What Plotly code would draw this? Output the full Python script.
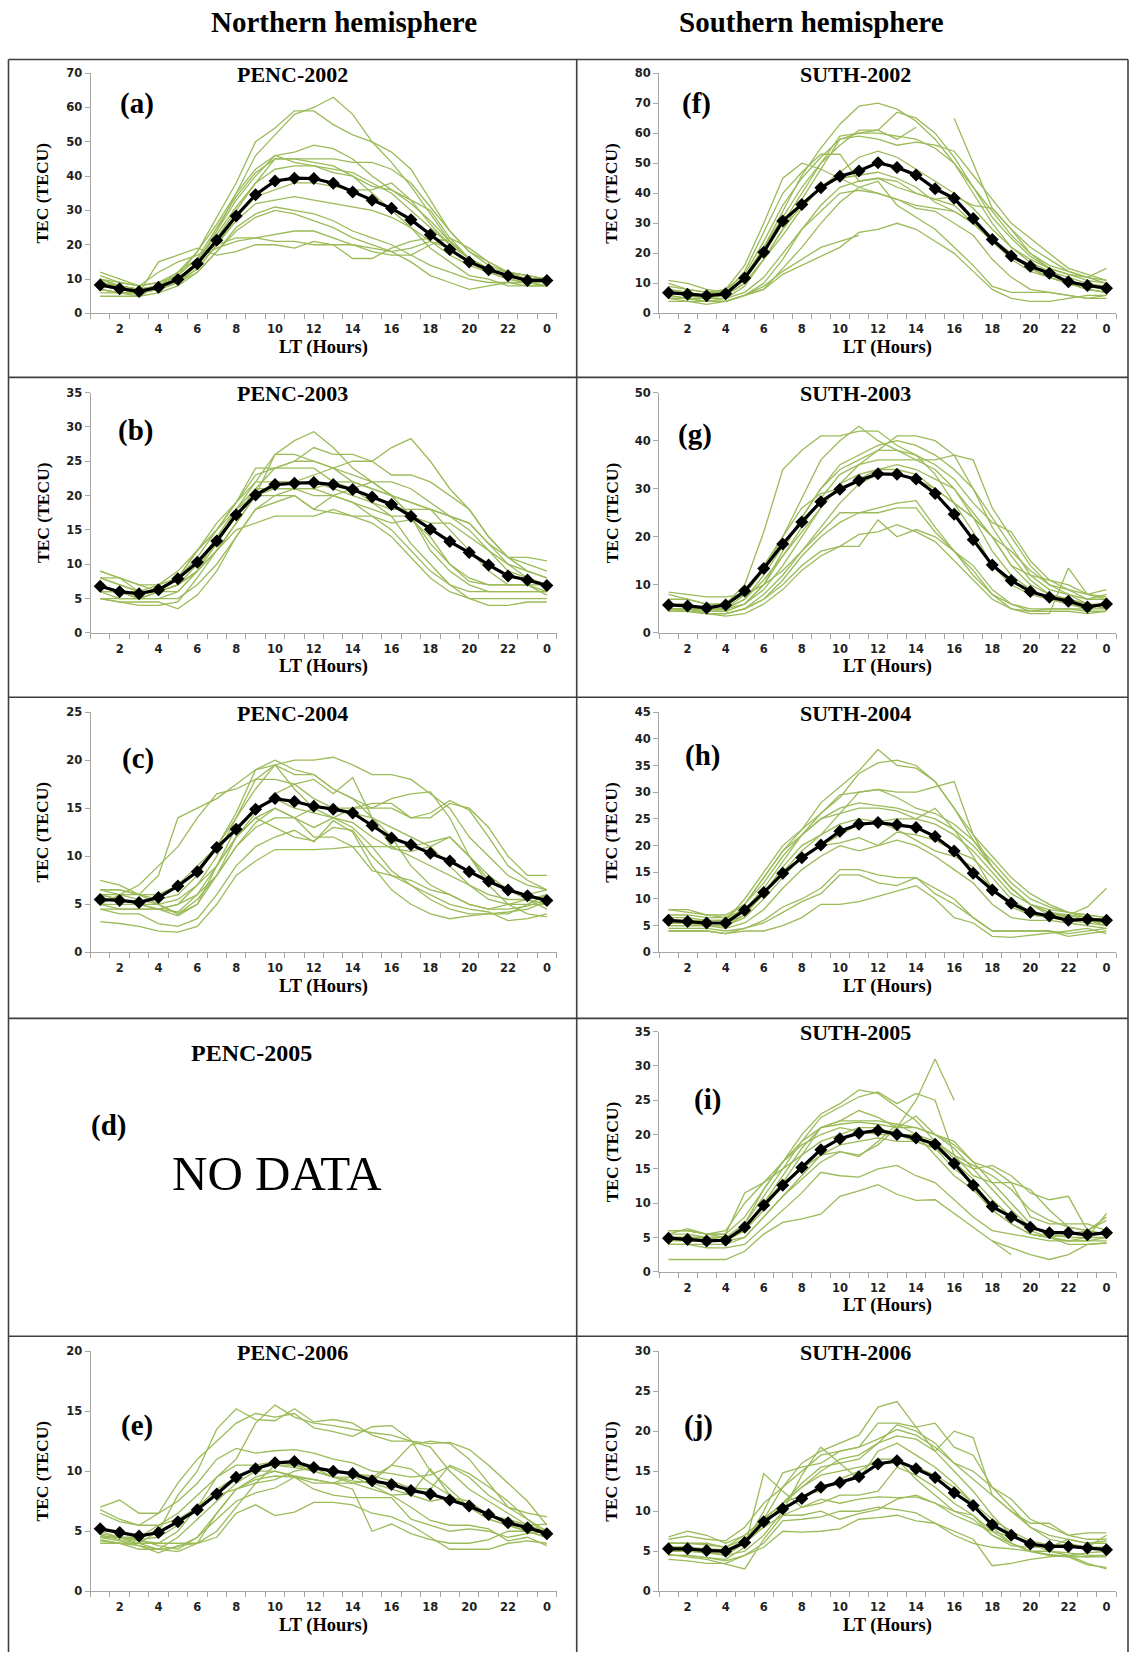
import plotly.graph_objects as go

W, H = 1129, 1659
N = None

lt_hours = list(range(1, 25))
tick_pos = [2, 4, 6, 8, 10, 12, 14, 16, 18, 20, 22, 24]
tick_text = ["2", "4", "6", "8", "10", "12", "14", "16", "18", "20", "22", "0"]

# ---------------- PENC-2002 (a) ----------------
penc2002_mean = [8.3, 7.2, 6.4, 7.6, 9.9, 14.5, 21.3, 28.4, 34.6, 38.6, 39.4, 39.3, 37.9, 35.4, 33.0, 30.6, 27.3, 22.9, 18.6, 15.0, 12.7, 11.0, 9.6, 9.6]
penc2002_days = [
    [10, 8, 7, 8, 10, 15, 24, 35, 46, 52, 58, 60, 63, 58, 50, 44, 37, 29, 21, 16, 13, 11, 10, 9],
    [9, 8, 7, 8, 11, 18, 28, 38, 50, 54, 59, 59, 55, 52, 50, 47, 42, 33, 24, 18, 14, 12, 11, 10],
    [11, 9, 8, 9, 12, 18, 26, 35, 42, 46, 47, 49, 48, 45, 40, 36, 33, 30, 22, 16, 13, 11, 10, 10],
    [10, 8, 7, 8, 10, 15, 24, 33, 40, 46, 44, 43, 42, 41, 38, 35, 30, 25, 20, 16, 13, 11, 10, 9],
    [8, 7, 6, 7, 9, 14, 22, 30, 38, 45, 45, 45, 45, 44, 44, 42, 38, 31, 24, 18, 15, 12, 11, 10],
    [9, 8, 7, 8, 10, 15, 23, 31, 38, 42, 43, 43, 41, 40, 37, 36, 32, 27, 21, 16, 13, 12, 10, 10],
    [7, 6, 6, 7, 9, 13, 20, 28, 34, 36, 38, 38, 37, 36, 36, 38, 33, 26, 20, 16, 13, 11, 10, 10],
    [8, 7, 6, 7, 9, 13, 20, 27, 32, 33, 34, 33, 32, 31, 30, 28, 25, 21, 17, 14, 12, 10, 9, 9],
    [7, 6, 6, 7, 9, 12, 18, 25, 29, 31, 30, 29, 27, 24, 22, 20, 17, 14, 12, 10, 9, 9, 8, 8],
    [6, 6, 5, 6, 8, 12, 18, 24, 28, 30, 29, 27, 25, 22, 20, 18, 15, 11, 9, 7, 8, 9, 9, 8],
    [5, 5, 5, 8, 12, 16, 19, 21, 22, 23, 24, 24, 22, 20, 19, 18, 19, 21, 19, 15, 12, 10, 9, 8],
    [7, 6, 6, 15, 17, 19, 17, 18, 20, 20, 19, 21, 20, 16, 16, 19, 21, 22, 21, 16, 13, 11, 10, 9],
    [10, 9, 8, 12, 15, 17, 20, 22, 22, 21, 21, 20, 20, 20, 18, 17, 17, 20, 22, 19, 15, 12, 11, 10],
    [12, 10, 8, 9, 11, 16, 25, 34, 41, 45, 45, 44, 43, 40, 35, 30, 25, 19, 15, 11, 10, 8, 8, 8],
]

# ---------------- PENC-2003 (b) ----------------
penc2003_mean = [6.8, 6.0, 5.7, 6.3, 7.9, 10.3, 13.4, 17.2, 20.1, 21.6, 21.8, 21.9, 21.6, 20.9, 19.8, 18.7, 17.0, 15.1, 13.3, 11.7, 9.9, 8.3, 7.7, 6.9]
penc2003_days = [
    [8, 7, 6, 7, 9, 12, 15, 19, 22, 26, 28, 29.3, 27, 24, 22, 20, 17, 13, 10, 8, 7, 7, 7, 7],
    [6, 6, 5, 6, 7, 9, 12, 16, 20, 22, 22, 23, 24, 25, 25, 27, 28.3, 25, 21, 18, 14, 11, 10, 9],
    [9, 8, 7, 7, 8, 10, 13, 17, 21, 24, 25, 27, 26, 26, 25, 23, 23, 22, 20, 18, 14, 11, 11, 10.5],
    [7, 6, 6, 6, 7, 9, 12, 16, 20, 26, 26, 25, 24, 23, 22, 20, 17, 12, 9, 7, 6, 6, 6, 6],
    [8, 7, 6, 6, 8, 11, 15, 19, 23, 24, 25, 25, 24, 22, 21, 20, 19, 18, 17, 16, 13, 10, 9, 8],
    [6, 6, 5, 6, 8, 12, 16, 19, 24, 24, 24, 24, 22, 21, 19, 17, 13, 10, 7, 6, 6, 6, 6, 6],
    [5, 5, 5, 5, 6, 9, 13, 18, 22, 22, 22, 22, 21, 20, 19, 18, 18, 18, 17, 16, 13, 11, 9, 8],
    [6, 5, 5, 6, 8, 12, 15, 18, 21, 21, 21, 20, 20, 19, 17, 15, 12, 9, 7, 5, 5, 5, 5, 5],
    [5, 4.5, 4, 4, 4.5, 8, 12, 15, 16, 17, 17, 17, 18, 17, 16, 14, 11, 8, 6, 5, 4, 4, 4.5, 4.5],
    [8, 8, 7, 6, 6, 9, 14, 17, 20, 20, 20, 18, 20, 21, 22, 22, 21, 19, 17, 15, 12, 9, 8, 7],
    [9, 8, 6, 6, 7, 10, 14, 18, 20, 21, 21, 21, 20, 19, 18, 17, 17, 16, 16, 14, 12, 10, 8, 7],
    [7, 6, 5, 5, 5, 7, 10, 14, 18, 20, 21, 21, 22, 22, 21, 20, 19, 18, 15, 12, 9, 7, 7, 6],
    [5, 4.5, 4.5, 4.5, 3.5, 5.5, 9, 14, 18, 19, 20, 18, 17.5, 17, 17, 16, 16.5, 14, 10, 7.5, 7, 7, 7, 5.5],
]

# ---------------- PENC-2004 (c) ----------------
penc2004_mean = [5.5, 5.4, 5.2, 5.7, 6.9, 8.4, 10.9, 12.8, 14.9, 16.0, 15.7, 15.2, 14.9, 14.5, 13.2, 11.9, 11.2, 10.3, 9.5, 8.4, 7.4, 6.5, 5.9, 5.4]
penc2004_days = [
    [6.5, 6.5, 6, 6, 7, 9, 11, 14, 17, 19.5, 20, 20, 20.3, 19.5, 18.5, 18.5, 18, 16.5, 15, 12, 10, 8, 7, 6.5],
    [7.5, 7, 6, 5.5, 6, 8, 11, 14.5, 19, 20, 19, 18.5, 17, 16, 15, 15, 14, 14, 15.5, 15, 13, 10, 8, 8],
    [6, 5.5, 5, 4.5, 5, 7, 10, 14, 18, 19.5, 17, 15, 14, 13, 11, 8.5, 7, 5.5, 4.5, 4, 4, 4, 5, 6],
    [5, 6, 7, 9, 11, 14, 16.5, 17, 18, 18, 17.5, 16, 15, 14.5, 14, 13, 12, 11, 9, 7, 5.5, 5, 5, 5],
    [6, 6, 6, 8, 14, 15, 16, 17.5, 19, 19.5, 18.5, 18.5, 17, 16, 14, 12, 9, 7, 6, 5, 4.5, 5, 5.5, 6],
    [6.5, 6, 5.5, 5, 5.5, 7, 9, 12, 14.5, 16.5, 17.5, 18, 16.5, 18.2, 14, 11, 10, 9, 8, 7, 6, 5.5, 5.5, 5],
    [4.5, 4.5, 4.5, 4.5, 5, 6, 8, 11, 13.5, 15, 14, 15, 15, 15, 15, 16, 16.5, 16.7, 14, 10, 7.5, 6.5, 6, 6.5],
    [5, 5, 5, 5, 4, 5.5, 8, 11, 13, 14, 14, 13, 14, 15, 15.5, 15.5, 14, 14.5, 15.8, 14.8, 12, 9, 7.5, 6.5],
    [3.2, 3, 2.7, 2.2, 2.1, 2.7, 5, 8, 9.5, 10.7, 10.7, 10.7, 10.8, 11, 11, 11, 11, 11.5, 12, 10, 7, 5, 4, 3.7],
    [4.5, 4, 4, 3, 2.7, 3.5, 6, 9, 11, 12, 12.7, 11.5, 13.7, 12.5, 9, 6.5, 5, 4, 3.5, 3.8, 4, 4.2, 4.5, 5.3],
    [5, 4.5, 4.5, 4.5, 4.2, 6, 9, 12, 14, 13, 12, 11.6, 13, 12.7, 10, 8, 7, 6, 5, 4.5, 4.2, 3.3, 3.5, 4],
    [6.5, 6.5, 6, 5, 4, 5, 9, 13, 15, 16, 15, 14.5, 14, 13.5, 12, 10.8, 10.5, 11, 12, 10, 8, 6.5, 5.5, 4.5],
    [6, 5.5, 5, 4.5, 3.8, 5, 8, 12, 14, 15, 14, 12, 12, 11, 8.5, 8, 7.5, 6.5, 6, 5, 4.5, 4.5, 4.8, 5.5],
]

# ---------------- PENC-2006 (e) ----------------
penc2006_mean = [5.2, 4.9, 4.6, 4.9, 5.8, 6.8, 8.1, 9.5, 10.2, 10.7, 10.8, 10.3, 10.0, 9.8, 9.2, 8.9, 8.4, 8.1, 7.6, 7.1, 6.4, 5.7, 5.3, 4.8]
penc2006_days = [
    [4.5, 4.5, 4, 4, 5, 7, 9.5, 11, 14, 15.5, 14.5, 14, 13.8, 13.5, 13.2, 13, 12.5, 12, 10, 8.5, 7.5, 6.5, 5.5, 5],
    [4.3, 4, 4, 5, 8, 10, 13.5, 15.2, 14.3, 14.2, 15.2, 14.1, 14.3, 14, 13, 12.5, 12.5, 12.3, 12.4, 11.8, 10.5, 9, 7.5, 5.5],
    [6.8, 6, 5.5, 6.5, 9, 11, 12.5, 14, 14.8, 14.5, 14.8, 13.6, 13.3, 12.9, 13.7, 13.8, 12.6, 10, 8.5, 7, 6, 5.5, 5, 4.5],
    [7, 7.6, 6.5, 6.5, 7.5, 9, 11, 11.9, 11.5, 11.7, 11.8, 11.5, 11, 10.7, 10, 9.8, 9.5, 9.7, 10.4, 9.5, 8, 7, 6.5, 6.2],
    [4.5, 4.5, 4.2, 4, 4, 4, 5, 7, 9, 10.5, 10.5, 10, 9.5, 9.5, 9.5, 10.5, 12.2, 12.5, 12.3, 11, 9, 7, 6, 5],
    [5, 4.5, 4.3, 4.5, 5.5, 7, 8.5, 9.5, 10.2, 10.5, 10.3, 10, 9.5, 9, 8.5, 8, 8.1, 10.2, 8, 7, 6.5, 5.5, 5, 4.5],
    [4.5, 4.2, 3.8, 3.5, 3.7, 4.5, 6.5, 8.5, 9.5, 10, 9.5, 9, 9, 9, 9.2, 10.5, 10.2, 9, 8, 7, 6, 5.5, 5, 4.5],
    [4.7, 4.3, 4, 3.5, 3.3, 4, 6.5, 8.5, 9.3, 9.6, 9.5, 9.3, 9, 8.5, 5, 5.6, 4.8, 4.3, 4, 4, 4.3, 5, 5, 5.2],
    [4.2, 4, 3.8, 3.2, 3.8, 4, 4.5, 6.5, 7.2, 6.3, 6.6, 7.4, 7.4, 7.2, 6.5, 6.2, 5.5, 4.5, 3.5, 3.5, 3.5, 4, 4.2, 4],
    [4.5, 4.5, 4.3, 3.8, 3.5, 4.5, 6, 7.5, 8.2, 8.6, 9.5, 8.5, 8, 7.8, 7.8, 7.8, 6, 5.5, 5, 5.2, 5, 4.5, 4.8, 5],
    [6.5, 5.8, 5.5, 5.5, 6, 7, 8, 8.5, 9, 9.3, 10, 10.3, 9.5, 9.2, 9, 8.5, 8, 7.5, 7.8, 7.5, 6.3, 6, 5.5, 5.6],
    [4.8, 4.5, 4.5, 5.5, 6.5, 8, 9.5, 10.5, 10.5, 10.8, 10.5, 10.3, 10, 9.8, 9.6, 9.2, 8.6, 8.5, 10.5, 9.8, 8.7, 7.5, 6, 4.7],
    [4, 4, 3.5, 3.5, 4.5, 6, 7.5, 9, 10, 10, 9.6, 9.3, 9, 9.6, 8.8, 8, 7, 5.9, 5.5, 5.5, 5.2, 4.2, 4.5, 3.8],
]

# ---------------- SUTH-2002 (f) ----------------
suth2002_mean = [6.9, 6.4, 5.9, 6.5, 11.8, 20.4, 30.8, 36.3, 41.8, 45.7, 47.4, 50.2, 48.6, 46.1, 41.5, 38.3, 31.6, 24.6, 19.1, 15.7, 13.4, 10.5, 9.3, 8.4]
suth2002_days = [
    [10, 8, 7, 7, 12, 22, 34, 46, 55, 63, 69, 70, 68, 64, 58, 50, 40, 30, 22, 17, 14, 12, 10, 9],
    [9, 8, 7, 8, 13, 24, 36, 45, 52, 58, 60, 61, 67, 65, 60, 52, 42, 32, 25, 19, 15, 13, 11, 10],
    [8, 7, 6, 7, 12, 22, 32, 42, 50, 56, 61, 61, 58, 62, N, N, N, N, N, N, N, N, N, N],
    [11, 10, 8, 7, 11, 20, 30, 40, 50, 59, 60, 60, 59, 58, 55, 50, 42, 34, 26, 20, 16, 14, 12, 11],
    [7, 6, 6, 6, 10, 18, 28, 38, 48, 58, 59, 58, 56, 57, 56, 54, 46, 38, 30, 25, 20, 15, 13, 11],
    [8, 7, 6, 8, 16, 30, 45, 50, 48, 45, 42, 40, 38, 36, 35, 34, 30, 24, 19, 15, 12, 10, 8, 7],
    [6, 5, 5, 7, 14, 27, 40, 47, 53, 53, 44, 45, 42, 40, 38, 36, 30, 24, 18, 14, 12, 10, 8, 7],
    [5, 5, 4, 5, 9, 18, 28, 36, 42, 47, 52, 54, 52, 48, 44, 40, 35, 28, 22, 18, 15, 13, 12, 15],
    [N, N, N, N, N, N, N, N, N, N, N, N, N, N, N, 65, 50, 35, 28, 20, 15, 10, 8, 7],
    [6, 5, 5, 6, 10, 18, 26, 35, 42, 45, 46, 47, 45, 42, 37, 34, 30, 25, 20, 15, 12, 10, 9, 8],
    [5, 5, 4, 4, 6, 8, 15, 22, 30, 37, 42, 44, 36, 32, 28, 22, 16, 9, 7, 7, 7, 6, 5, 5],
    [5, 4, 4, 4, 6, 8, 13, 16, 19, 22, 27, 28, 30, 28, 24, 20, 14, 8, 5, 4, 4, 5, 6, 6],
    [5, 5, 4, 4, 6, 9, 14, 18, 22, 24, 26, N, N, N, N, N, N, N, N, N, N, N, N, N],
    [7, 6, 5, 5, 7, 12, 20, 28, 34, 40, 41, 40, 38, 35, 34, 30, 26, 18, 12, 8, 7, 6, 5, 6],
    [4, 4, 3, 4, 6, 10, 18, 28, 36, 42, 44, 45, 44, 40, 38, 39, 36, 35, 28, 22, 18, 14, 12, 10],
]

# ---------------- SUTH-2003 (g) ----------------
suth2003_mean = [5.8, 5.6, 5.2, 5.8, 8.7, 13.4, 18.5, 23.1, 27.3, 29.9, 31.7, 33.1, 33.0, 32.0, 29.0, 24.7, 19.4, 14.1, 10.9, 8.6, 7.4, 6.6, 5.4, 6.0]
suth2003_days = [
    [8, 7, 6, 6, 8, 13, 20, 28, 36, 40, 43, 40, 38, 36, 34, 30, 24, 17, 12, 9, 7, 6, 5, 6],
    [7, 7, 6, 6, 10, 21, 34, 38, 41, 41, 42, 42, 39, 37, 33, 27, 21, 14, 10, 8, 7, 6, 5, 6],
    [6, 6, 5, 5, 7, 11, 16, 21, 26, 31, 35, 38, 41, 41, 40, 37, 30, 22, 16, 11, 8, 7, 6, 5],
    [5, 5, 5, 5, 7, 12, 18, 24, 30, 35, 37, 39, 40, 39, 37, 34, 30, 24, 18, 12, 9, 8, 7, 7],
    [5, 5, 4.5, 4.5, 6, 10, 16, 22, 28, 33, 35, 36, 36, 36, 36, 37, 36, 26, 20, 14, 10, 8, 6, 6],
    [6, 6, 5, 5, 6, 10, 17, 24, 30, 34, 36, 38, 38, 37, 35, 32, 27, 23, 21, 15, 11, 9, 7, 8],
    [5, 5, 4.5, 4.5, 6, 9, 14, 20, 26, 31, 33, 34, 34, 33, 30, 27, 24, 20, 14, 10, 8, 7, 6, 5],
    [4.5, 4.5, 4, 4, 5, 7, 11, 16, 20, 23, 25, 26, 27, 27.5, 22, 17, 12, 8, 6, 5, 5, 5, 4.5, 4.5],
    [5, 5, 4, 4, 5, 8, 12, 17, 21, 25, 25, 25, 26, 26, 21, 17, 14, 9, 6, 4.5, 5, 5, 5, 5],
    [5, 4.5, 4, 4, 5, 7, 10, 14, 17, 18, 18, 23.5, 20, 21.5, 20, 17, 13, 8, 5, 4, 4, 13.5, 8, 7],
    [4.5, 4.5, 4, 3.5, 4, 6, 9, 13, 16, 18, 20.5, 21, 22.5, 21, 19, 15, 11, 7, 5, 4.5, 4.5, 4.5, 4, 4.5],
    [8.5, 8, 7.5, 7.5, 8, 10, 13, 17, 22, 27, 31, 33, 33, 32, 30, 27, 24, 20, 17, 13, 10, 9, 8, 7.5],
    [5, 5, 5, 5, 8, 14, 20, 26, 29, 30, 32, 34, 35, 34, 32, 30, 25, 20, 14, 12, 11, 10, 8, 9],
]

# ---------------- SUTH-2004 (h) ----------------
suth2004_mean = [6.0, 5.8, 5.5, 5.5, 7.9, 11.2, 14.8, 17.7, 20.1, 22.7, 24.0, 24.3, 23.9, 23.4, 21.7, 19.0, 14.8, 11.7, 9.2, 7.5, 6.8, 6.0, 6.2, 6.0]
suth2004_days = [
    [8, 7.5, 7, 6.5, 9, 14, 19, 23, 28, 31, 34, 38, 35, 34.5, 32, 27, 21, 16, 12, 9, 7.5, 7, 6, 5],
    [7, 7, 6.5, 6.5, 8, 12, 17, 22, 26, 29, 33.5, 35.5, 36, 35, 32, 27, 22, 18, 14, 11, 9, 7.5, 6.5, 6],
    [6.5, 6.5, 6, 6, 8, 11, 15, 19, 22, 26, 30, 30.5, 30, 30, 31, 32, 22, 16, 12, 9, 8, 7.5, 7, 6.5],
    [6, 6, 6, 6, 10, 15, 20, 23, 26, 29.5, 30, 30.5, 29, 27, 26, 24, 21, 17, 13, 10, 8.5, 7.5, 7, 6.5],
    [5.5, 5.5, 5, 5, 9, 14, 19, 22, 25, 27, 28, 27.5, 27, 26, 25, 23, 20, 16, 12, 9, 7.5, 6.5, 6, 5.5],
    [5, 5, 5, 5, 7, 11, 15, 17.5, 20, 22, 24, 24.5, 25, 25, 27, 23, 18, 12, 9, 7, 6.5, 6, 5.5, 5],
    [6, 6, 5.5, 5.5, 7, 11, 16, 20, 22, 24, 25, 24.5, 23, 21, 19, 18, 16, 12, 8.5, 7, 6.5, 7, 8.5, 12],
    [5.5, 5.5, 5, 5, 6.5, 10, 14, 18, 20, 20.5, 21.5, 20, 22.5, 22, 21, 19, 17.5, 14, 10, 7.5, 6.5, 6, 6, 5.5],
    [5, 5, 5, 4.5, 5.5, 8, 12, 15.5, 18, 20, 19, 20, 21, 20, 18, 15.5, 13, 9, 6.5, 6, 6, 5.5, 5, 4.5],
    [4.5, 4.5, 4.5, 4, 4.5, 6, 8.5, 10, 12, 15.5, 15.5, 14.5, 14, 14, 12, 10, 6.5, 4, 4, 4, 4, 3.5, 4, 4.5],
    [4, 4, 4, 3.5, 4.5, 5.5, 7.5, 9.5, 11, 14.5, 14.5, 13, 12.5, 14, 11, 9, 6.5, 4, 4, 4, 4, 3, 3.5, 4],
    [4, 4, 4, 3.5, 4, 4, 5, 6.5, 9, 9, 9.5, 10.5, 11.5, 12.5, 10, 6.5, 5.5, 3, 2.8, 3.2, 3.5, 4, 4.5, 3.5],
    [8, 8, 7, 7, 9, 13, 18, 22, 25, 26, 27, 27, 26.5, 25, 24, 22, 19, 15, 11, 9, 7, 7, 6.5, 6],
]

# ---------------- SUTH-2005 (i) ----------------
suth2005_mean = [4.9, 4.7, 4.5, 4.6, 6.5, 9.7, 12.6, 15.2, 17.8, 19.4, 20.2, 20.6, 20.0, 19.5, 18.6, 15.8, 12.6, 9.5, 8.0, 6.5, 5.7, 5.7, 5.4, 5.7]
suth2005_days = [
    [5.5, 5.5, 5, 5, 6, 10, 13, 15, 17, 17.5, 17, 18.5, 21, 25, 31, 25, N, N, N, N, N, N, N, N],
    [6, 6, 5.5, 5.5, 8, 12, 16, 20, 23, 24.5, 26.5, 26, 24, 22, 19, 16.5, 15, 15.5, 14, 11.5, 10.5, 11, 6, 5.5],
    [5.5, 6.3, 5.5, 5, 7, 11, 15, 19, 22.5, 24, 25.5, 26.2, 24.5, 26, 25, 17, 14, 13, 13, 8, 7, 7, 7, 6],
    [5, 5, 5, 5, 6, 9, 13, 17, 21, 22, 23.5, 22.5, 21, 22.7, 20, 18, 15, 12, 9, 6.5, 5.5, 5, 5, 5],
    [4.5, 4.5, 4.5, 4.5, 7, 12, 16, 19, 21, 21.5, 21.8, 21.5, 21, 21, 20, 18.5, 16, 13, 10, 7, 5, 4, 4, 4.2],
    [6, 6, 5.5, 6, 10, 13, 16, 18.5, 20, 21, 20.5, 20, 20, 20, 19, 17, 15.5, 14, 12, 9, 7.5, 6.5, 6, 5.5],
    [4, 4, 4, 4, 5, 8, 11, 14, 17, 18.5, 19, 19.5, 19, 19, 18, 16, 13.5, 10.5, 8, 6, 5, 4.5, 4.5, 5],
    [5, 5, 5, 4.5, 5, 8, 11, 13.5, 16, 17.5, 16.8, 19, 21.5, 20, 17, 14, 12, 9, 7, 5.5, 5, 4.5, 5, 8.5],
    [4, 4, 3.5, 3.5, 4, 6.5, 9, 11.5, 14.5, 14, 13.8, 15, 15.5, 14, 13, 10.5, 8, 6, 5.5, 5, 4.5, 4.5, 4.5, 4.5],
    [1.8, 1.8, 1.8, 1.8, 3, 5.5, 7.2, 7.7, 8.4, 11, 11.8, 12.7, 11.3, 10.4, 10.5, 8.5, 6.5, 4.5, 3.5, 2.5, 1.8, 2.5, 4, 4.2],
    [N, N, N, N, N, N, N, N, N, N, N, N, N, N, N, N, N, 4.5, 2.5, N, N, N, N, N],
    [5, 5, 4.5, 4.5, 6, 10, 14, 18, 21, 22, 22, 22, 21.5, 21, 20, 19, 16, 15, 13, 12, 9, 6.5, 6, 7.5],
    [6, 6, 5.5, 5.5, 11.5, 13, 15, 17, 19, 20, 21, 21, 20, 19, 18, 15, 13, 9, 7, 5.5, 5, 5.5, 6, 8],
]

# ---------------- SUTH-2006 (j) ----------------
suth2006_mean = [5.3, 5.3, 5.1, 5.0, 6.1, 8.7, 10.3, 11.6, 13.0, 13.6, 14.3, 15.9, 16.3, 15.3, 14.2, 12.3, 10.7, 8.3, 7.0, 5.9, 5.6, 5.6, 5.4, 5.2]
suth2006_days = [
    [6.8, 7.5, 7, 6, 7, 9, 13, 16, 17.5, 18.5, 19.5, 23, 23.7, 20.5, 21, 18, 17, 13, 11.5, 9, 8, 7, 6.5, 6.5],
    [5.5, 5.5, 5, 5, 6, 10, 14.8, 15.5, 16, 17.5, 18, 21, 21, 20.5, 17.5, 20, 19.2, 12, 10, 8, 7, 6.5, 6, 6.3],
    [6, 6, 6, 5.5, 7, 9, 11, 13.5, 15.5, 16, 16.5, 18.5, 20.8, 20, 18.5, 16, 15, 13, 10.5, 8, 6.5, 6, 5.5, 5.5],
    [6.5, 6.9, 6.5, 6.3, 8, 11, 13, 15, 17, 17.5, 18, 19, 20.2, 19.5, 18, 16, 14, 12, 10, 8.5, 8.5, 7, 7.3, 7.3],
    [5, 5, 4.8, 4.5, 6, 8, 11, 13, 15, 16.5, 17, 18.5, 19.4, 19, 17.5, 15, 12.5, 9.5, 7, 6, 5, 4.8, 4.5, 4.5],
    [5, 5, 5, 4.5, 5, 7, 10, 14.5, 18, 16, 14, 17.5, 18.5, 17, 15.5, 13.5, 11, 8, 6, 5, 4.5, 4.3, 4.3, 4.3],
    [4.5, 4.5, 4.2, 4, 5.5, 14.7, 12.5, 10.5, 11, 12, 12, 12.5, 15.5, 14.5, 13, 11, 9.5, 7, 6, 5, 4.5, 4.5, 4.3, 4.5],
    [4.6, 4.3, 4, 3.4, 2.8, 6.5, 9.5, 9.5, 10, 9, 9.7, 10.2, 11.5, 12, 11, 9.5, 8.5, 7.5, 6, 5, 5, 4.5, 3.5, 2.8],
    [4.5, 4.5, 4.2, 3.8, 4.5, 6, 8.8, 9, 9.3, 10, 10, 10.5, 10.2, 9.8, 8.5, 7, 6, 5.5, 5.3, 5, 4.6, 4.3, 3.3, 3],
    [4, 3.8, 3.5, 3.5, 4.5, 5.5, 7.5, 7.4, 7.5, 7.8, 9, 9.2, 9.5, 8.8, 8.5, 7.5, 6.5, 3.2, 3.5, 4, 4.3, 4.5, 4.8, 5],
    [5.5, 5.5, 5.3, 5.2, 6, 9, 11, 13, 14.5, 15, 15.5, 16, 16, 15.5, 14.5, 13, 11, 9, 7.5, 6.3, 5.8, 5.8, 5.5, 5.2],
    [6, 6, 5.8, 5.5, 6.5, 8, 9.5, 10.5, 11.5, 11, 11.5, 11.8, 11.7, 11.8, 11, 10, 9, 7, 5.7, 5.5, 5.5, 6.5, 6, 6],
    [5.2, 5.2, 5, 5, 6.5, 9, 11, 12, 12.5, 14, 15, 16.5, 16.5, 14, 12, 10, 9.5, 7.5, 6.8, 6, 5.5, 5.5, 5.5, 7],
]

# (title, label, column, row, y max, y step, mean, individual days, label position px)
panels = [
    ("PENC-2002", "(a)", 0, 0, 70, 10, penc2002_mean, penc2002_days, (137, 97)),
    ("PENC-2003", "(b)", 0, 1, 35, 5, penc2003_mean, penc2003_days, (135, 427)),
    ("PENC-2004", "(c)", 0, 2, 25, 5, penc2004_mean, penc2004_days, (138, 758)),
    ("PENC-2006", "(e)", 0, 4, 20, 5, penc2006_mean, penc2006_days, (137, 1431)),
    ("SUTH-2002", "(f)", 1, 0, 80, 10, suth2002_mean, suth2002_days, (696, 97)),
    ("SUTH-2003", "(g)", 1, 1, 50, 10, suth2003_mean, suth2003_days, (695, 431)),
    ("SUTH-2004", "(h)", 1, 2, 45, 5, suth2004_mean, suth2004_days, (702, 755)),
    ("SUTH-2005", "(i)", 1, 3, 35, 5, suth2005_mean, suth2005_days, (707, 1102)),
    ("SUTH-2006", "(j)", 1, 4, 30, 5, suth2006_mean, suth2006_days, (698, 1431)),
]

GREEN = "#9BBB59"
AXIS = "#a6a6a6"
SERIF = "Liberation Serif, Times New Roman, serif"
TICKFONT = dict(family="DejaVu Sans, Verdana, sans-serif", size=11.5, color="#1f1f1f", weight="bold")

col_x = [(90.5, 556.6), (659.0, 1116.0)]
row_top0, row_bot0, row_step = 66.7, 309.0, 322.2
title_x = [292, 855]


def px(x):
    return x / W


def py(y):
    return 1 - y / H


def note(text, x, y, size, angle=0):
    return dict(text=text, x=px(x), y=py(y), xref="paper", yref="paper", showarrow=False,
                xanchor="center", yanchor="middle", textangle=angle,
                font=dict(family=SERIF, size=size, color="black"))


fig = go.Figure()
layout = dict(
    width=W, height=H, margin=dict(l=0, r=0, t=0, b=0),
    paper_bgcolor="white", plot_bgcolor="white", showlegend=False,
)
annotations = []
shapes = []

for i, (title, lab, col, row, ymax, ystep, mean, days, lpos) in enumerate(panels):
    n = i + 1
    xa = "x" if n == 1 else f"x{n}"
    ya = "y" if n == 1 else f"y{n}"
    for d in days:
        fig.add_trace(go.Scatter(x=lt_hours, y=d, mode="lines", xaxis=xa, yaxis=ya,
                                 line=dict(color=GREEN, width=1.3), connectgaps=False,
                                 hoverinfo="skip"))
    fig.add_trace(go.Scatter(x=lt_hours, y=mean, mode="lines+markers", xaxis=xa, yaxis=ya,
                             line=dict(color="black", width=3.2),
                             marker=dict(symbol="diamond", size=10, color="black")))
    top = row_top0 + row_step * row
    bot = row_bot0 + row_step * row
    x0, x1 = col_x[col]
    layout["xaxis" if n == 1 else f"xaxis{n}"] = dict(
        domain=[px(x0), px(x1)], anchor=ya, range=[0.5, 24.5],
        tickmode="array", tickvals=tick_pos, ticktext=tick_text,
        ticks="outside", ticklen=5, tickcolor="rgba(0,0,0,0)",
        minor=dict(tickmode="array", tickvals=[k + 0.5 for k in range(0, 25)],
                   ticks="outside", ticklen=5, tickcolor=AXIS, tickwidth=1),
        showline=True, linecolor=AXIS, linewidth=1, showgrid=False, zeroline=False,
        tickfont=TICKFONT, fixedrange=True,
    )
    layout["yaxis" if n == 1 else f"yaxis{n}"] = dict(
        domain=[py(bot), py(top)], anchor=xa, range=[0, ymax],
        tickmode="linear", tick0=0, dtick=ystep,
        ticks="outside", ticklen=5, tickcolor=AXIS,
        showline=True, linecolor=AXIS, linewidth=1, showgrid=False, zeroline=False,
        tickfont=TICKFONT, fixedrange=True,
    )
    annotations.append(note(f"<b>{title}</b>", title_x[col], 68 + row_step * row, 22))
    annotations.append(note(f"<b>{lab}</b>", lpos[0], lpos[1], 29))
    annotations.append(note("<b>TEC (TECU)</b>", [42.3, 611.6][col], (top + bot) / 2, 17.5, -90))
    annotations.append(note("<b>LT (Hours)</b>", (x0 + x1) / 2, bot + 34, 18.5))

# panel (d): no data
annotations.append(note("<b>PENC-2005</b>", 251, 1055, 24))
annotations.append(note("<b>(d)</b>", 108, 1128, 29))
annotations.append(note("NO DATA", 277, 1176, 49))

# column headers
annotations.append(note("<b>Northern hemisphere</b>", 344, 15, 29))
annotations.append(note("<b>Southern hemisphere</b>", 811, 15, 29))

# panel borders
BORDER = dict(color="#3f3f3f", width=1.6)
for yy in [53, 373.5, 696.2, 1020, 1340.6]:
    shapes.append(dict(type="line", xref="paper", yref="paper", x0=px(8.5), x1=px(1128),
                       y0=py(yy), y1=py(yy), line=BORDER))
for xx in [8.5, 576.7, 1128]:
    shapes.append(dict(type="line", xref="paper", yref="paper", x0=px(xx), x1=px(xx),
                       y0=py(53), y1=py(H), line=BORDER))

layout["annotations"] = annotations
layout["shapes"] = shapes
fig.update_layout(**layout)
fig.write_html("out.html")
